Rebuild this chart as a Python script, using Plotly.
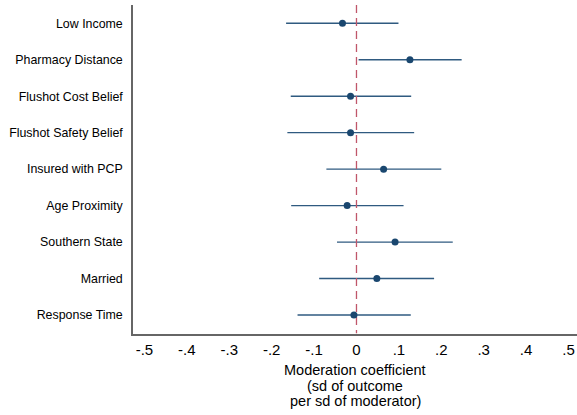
import plotly.graph_objects as go

labels = ["Low Income", "Pharmacy Distance", "Flushot Cost Belief", "Flushot Safety Belief",
          "Insured with PCP", "Age Proximity", "Southern State", "Married", "Response Time"]
coef = [-0.033, 0.126, -0.014, -0.014, 0.064, -0.022, 0.091, 0.048, -0.006]
ci_lo = [-0.166, 0.005, -0.155, -0.163, -0.071, -0.154, -0.046, -0.088, -0.139]
ci_hi = [0.099, 0.248, 0.129, 0.136, 0.200, 0.111, 0.227, 0.183, 0.128]
xticks = [-0.5, -0.4, -0.3, -0.2, -0.1, 0, 0.1, 0.2, 0.3, 0.4, 0.5]
xticktext = ["-.5", "-.4", "-.3", "-.2", "-.1", "0", ".1", ".2", ".3", ".4", ".5"]
xtitle_lines = ["Moderation coefficient", "(sd of outcome", "per sd of moderator)"]

pos = list(range(1, len(labels) + 1))
navy = "#1a476f"

fig = go.Figure()
xs, ys = [], []
for p, lo, hi in zip(pos, ci_lo, ci_hi):
    xs += [lo, hi, None]
    ys += [p, p, None]
fig.add_trace(go.Scatter(x=xs, y=ys, mode="lines",
                         line=dict(color="#2f5a80", width=1.4), hoverinfo="skip"))
fig.add_trace(go.Scatter(x=[0, 0], y=[0.5, len(labels) + 0.5], mode="lines",
                         line=dict(color="#c0566a", width=1.3, dash="8px,5px"), hoverinfo="skip"))
fig.add_trace(go.Scatter(x=coef, y=pos, mode="markers",
                         marker=dict(color=navy, size=7)))

for i, t in enumerate(xtitle_lines):
    fig.add_annotation(text=t, xref="paper", yref="paper", x=0.5, y=0,
                       xanchor="center", yanchor="middle", yshift=-(36 + 15.5 * i),
                       showarrow=False, font=dict(size=14.5))

fig.update_layout(
    width=577, height=415, showlegend=False,
    margin=dict(l=133, r=0, t=5, b=81),
    plot_bgcolor="white", paper_bgcolor="white",
    font=dict(family="Liberation Sans, Arial, sans-serif", color="#000000"),
    xaxis=dict(range=[-0.527, 0.52], tickvals=xticks, ticktext=xticktext,
               showgrid=False, zeroline=False, showline=True, linecolor="#666666", linewidth=1.5,
               ticks="outside", ticklen=1, tickcolor="rgba(0,0,0,0)",
               tickfont=dict(size=15)),
    yaxis=dict(range=[len(labels) + 0.52, 0.5], tickvals=pos, ticktext=labels,
               showgrid=False, zeroline=False, showline=True, linecolor="#666666", linewidth=1.5,
               ticks="outside", ticklen=6, tickcolor="rgba(0,0,0,0)",
               tickfont=dict(size=12.4)),
)
fig.write_html("out.html")
